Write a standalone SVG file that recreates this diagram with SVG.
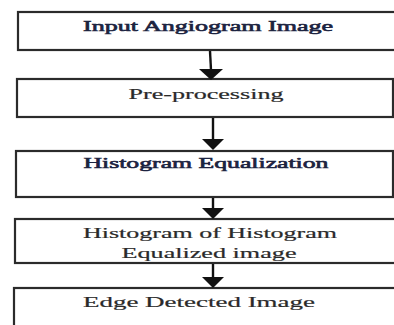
<svg xmlns="http://www.w3.org/2000/svg" width="394" height="325" viewBox="0 0 394 325">
<defs>
<style>
.box{fill:#ffffff;stroke:#2b2b2b;stroke-width:2.2}
.t{font-family:"Liberation Serif","Times New Roman",serif;font-size:15px;text-anchor:middle}
.b{fill:#1c2340;stroke:#1c2340;stroke-width:0.6}
.n{fill:#2a2a2a;stroke:#2a2a2a;stroke-width:0.2}
.c{stroke:#111;stroke-width:2.4;fill:none}
</style>
</defs>
<rect width="394" height="325" fill="#ffffff"/>
<g id="n1"><rect class="box" x="18" y="12" width="390" height="38"/>
<text class="t b" x="208" y="31" textLength="250" lengthAdjust="spacingAndGlyphs">Input Angiogram Image</text></g>
<g id="n2"><rect class="box" x="17" y="79" width="376" height="38"/>
<text class="t n" x="206" y="99" textLength="155" lengthAdjust="spacingAndGlyphs">Pre-processing</text></g>
<g id="n3"><rect class="box" x="16" y="151" width="377" height="46"/>
<text class="t b" x="206" y="168" textLength="245" lengthAdjust="spacingAndGlyphs">Histogram Equalization</text></g>
<g id="n4"><rect class="box" x="15" y="219" width="393" height="44"/>
<text class="t n" x="210" y="238" textLength="254" lengthAdjust="spacingAndGlyphs">Histogram of Histogram</text>
<text class="t n" x="209" y="258" textLength="175" lengthAdjust="spacingAndGlyphs">Equalized image</text></g>
<g id="n5"><rect class="box" x="14" y="288" width="394" height="60"/>
<text class="t n" x="199" y="307" textLength="232" lengthAdjust="spacingAndGlyphs">Edge Detected Image</text></g>
<g id="connectors">
<path d="M210,51 L211,70" class="c"/><path d="M199,69 L223,69 L211,80 z" fill="#111"/>
<path d="M213,118 L213,140" class="c"/><path d="M202,139 L224,139 L213,150 z" fill="#111"/>
<path d="M213,198 L213,209" class="c"/><path d="M202,208 L224,208 L213,219 z" fill="#111"/>
<path d="M213,264 L213,278" class="c"/><path d="M202,277 L224,277 L213,288 z" fill="#111"/>
</g>
</svg>
